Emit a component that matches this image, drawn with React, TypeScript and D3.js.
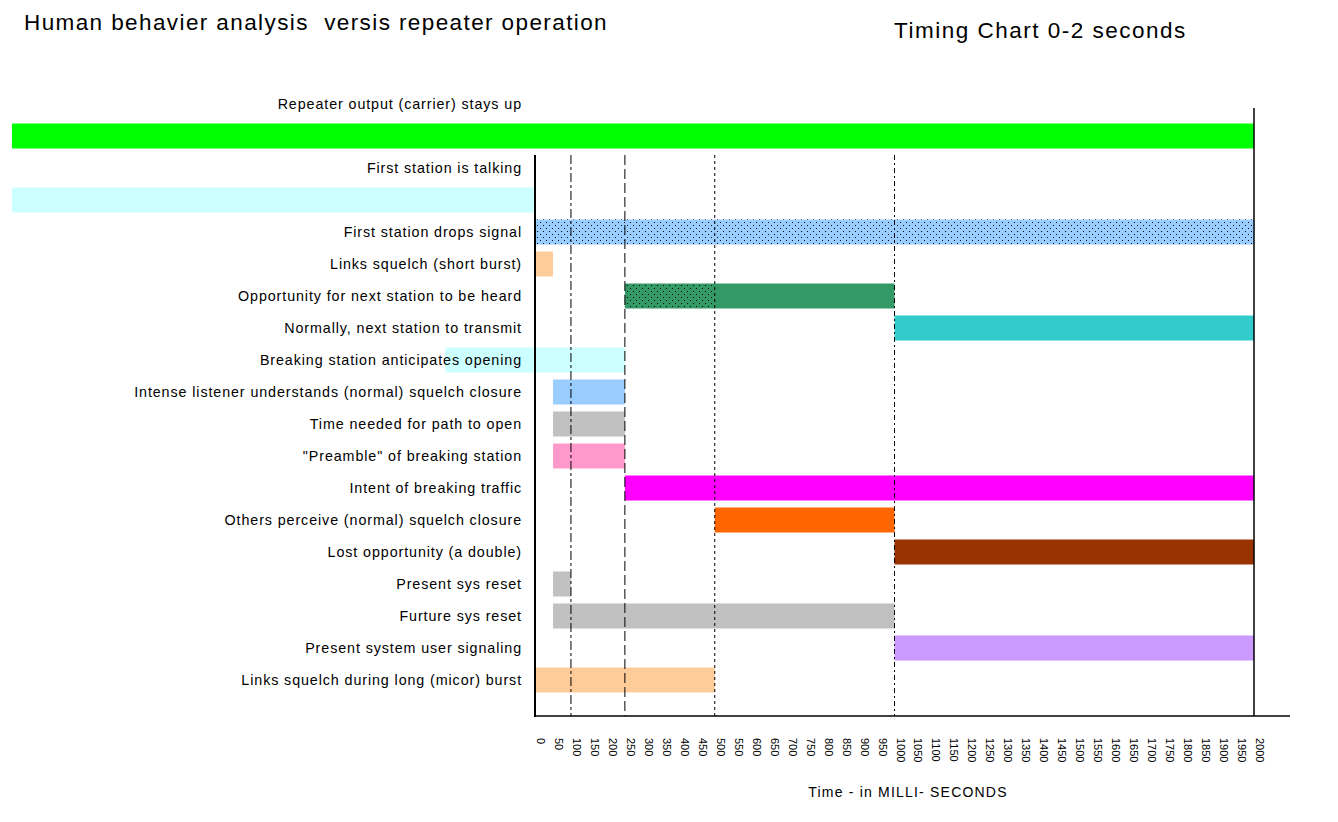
import React from 'react';
import * as d3 from 'd3';

// row labels, one per task (first two have their label on the row above the bar)
const taskLabels = [
  'Repeater output (carrier) stays up',
  'First station is talking',
  'First station drops signal',
  'Links squelch (short burst)',
  'Opportunity for next station to be heard',
  'Normally, next station to transmit',
  'Breaking station anticipates opening',
  'Intense listener understands (normal) squelch closure',
  'Time needed for path to open',
  '"Preamble" of breaking station',
  'Intent of breaking traffic',
  'Others perceive (normal) squelch closure',
  'Lost opportunity (a double)',
  'Present sys reset',
  'Furture sys reset',
  'Present system user signaling',
  'Links squelch during long (micor) burst',
];
const taskStarts = [-1455, -1455, 0, 0, 250, 1000, -250, 50, 50, 50, 250, 500, 1000, 50, 50, 1000, 0];
const taskEnds = [2000, 0, 2000, 50, 1000, 2000, 250, 250, 250, 250, 2000, 1000, 2000, 100, 1000, 2000, 500];
const taskColors = [
  '#00FF00', '#CCFFFF', '#99CCFF', '#FFCC99', '#339966', '#33CCCC', '#CCFFFF', '#99CCFF',
  '#C0C0C0', '#FF99CC', '#FF00FF', '#FF6600', '#993300', '#C0C0C0', '#C0C0C0', '#CC99FF', '#FFCC99',
];

// dotted overlays (task index, start, end)
const dottedTasks = [2, 4];
const dottedStarts = [0, 250];
const dottedEnds = [2000, 500];

// vertical marker lines
const markerTimes = [100, 250, 500, 1000];
const markerDashes = ['9,3,3,3', '10,4', '3,3', '5,3,2,3'];

const tickValues = d3.range(0, 2050, 50);

const W = 1338;
const H = 822;

export default function App() {
  const x = d3.scaleLinear().domain([0, 2000]).range([535, 1254]);
  const slot = d3.scaleLinear().domain([0, 18]).range([104, 680]);
  const barH = 25;
  const labelSlot = (i: number) => (i < 2 ? 2 * i : i + 2);
  const barSlot = (i: number) => (i < 2 ? 2 * i + 1 : i + 2);
  const font = '"Liberation Sans", Arial, sans-serif';

  return (
    <div style={{ position: 'absolute', left: 0, top: 0 }}>
      <svg width={W} height={H} style={{ display: 'block', background: '#fff', fontFamily: font }}>
        <defs>
          <pattern id="dots" width={6} height={6} patternUnits="userSpaceOnUse">
            <rect x={0} y={0} width={1} height={1} fill="#000" />
            <rect x={3} y={3} width={1} height={1} fill="#000" />
          </pattern>
        </defs>

        <text x={24} y={30} fontSize={22.5} letterSpacing={1.4} style={{ whiteSpace: 'pre' }}>
          Human behavier analysis  versis repeater operation
        </text>
        <text x={894} y={38} fontSize={22.5} letterSpacing={1.5}>Timing Chart 0-2 seconds</text>

        {/* bars */}
        {taskLabels.map((_, i) => (
          <rect
            key={'b' + i}
            x={x(taskStarts[i])}
            y={slot(barSlot(i)) - barH / 2}
            width={x(taskEnds[i]) - x(taskStarts[i])}
            height={barH}
            fill={taskColors[i]}
          />
        ))}
        {dottedTasks.map((t, k) => (
          <rect
            key={'d' + k}
            x={x(dottedStarts[k])}
            y={slot(barSlot(t)) - barH / 2}
            width={x(dottedEnds[k]) - x(dottedStarts[k])}
            height={barH}
            fill="url(#dots)"
          />
        ))}

        {/* labels */}
        {taskLabels.map((label, i) => (
          <text
            key={'l' + i}
            x={522}
            y={slot(labelSlot(i))}
            dy="0.35em"
            textAnchor="end"
            fontSize={14.3}
            letterSpacing={0.9}
            fill="#000"
          >
            {label}
          </text>
        ))}

        {/* marker lines */}
        {markerTimes.map((t, i) => (
          <line
            key={'m' + i}
            x1={x(t)}
            x2={x(t)}
            y1={155}
            y2={716}
            stroke="#000"
            strokeWidth={1}
            strokeDasharray={markerDashes[i]}
          />
        ))}

        {/* axes */}
        <line x1={x(0)} x2={x(0)} y1={155} y2={717} stroke="#000" strokeWidth={2} />
        <line x1={x(0)} x2={1290} y1={716} y2={716} stroke="#000" strokeWidth={1.5} />
        <line x1={x(2000)} x2={x(2000)} y1={108} y2={716} stroke="#000" strokeWidth={1.5} />

        {tickValues.map((v) => (
          <text
            key={'t' + v}
            transform={`translate(${x(v) + 2},738) rotate(90)`}
            fontSize={11}
            fontFamily='"Liberation Sans Narrow", "Liberation Sans", Arial, sans-serif'
          >
            {v}
          </text>
        ))}

        <text x={908} y={797} fontSize={14} letterSpacing={1.2} textAnchor="middle">
          Time - in MILLI- SECONDS
        </text>
      </svg>
    </div>
  );
}
